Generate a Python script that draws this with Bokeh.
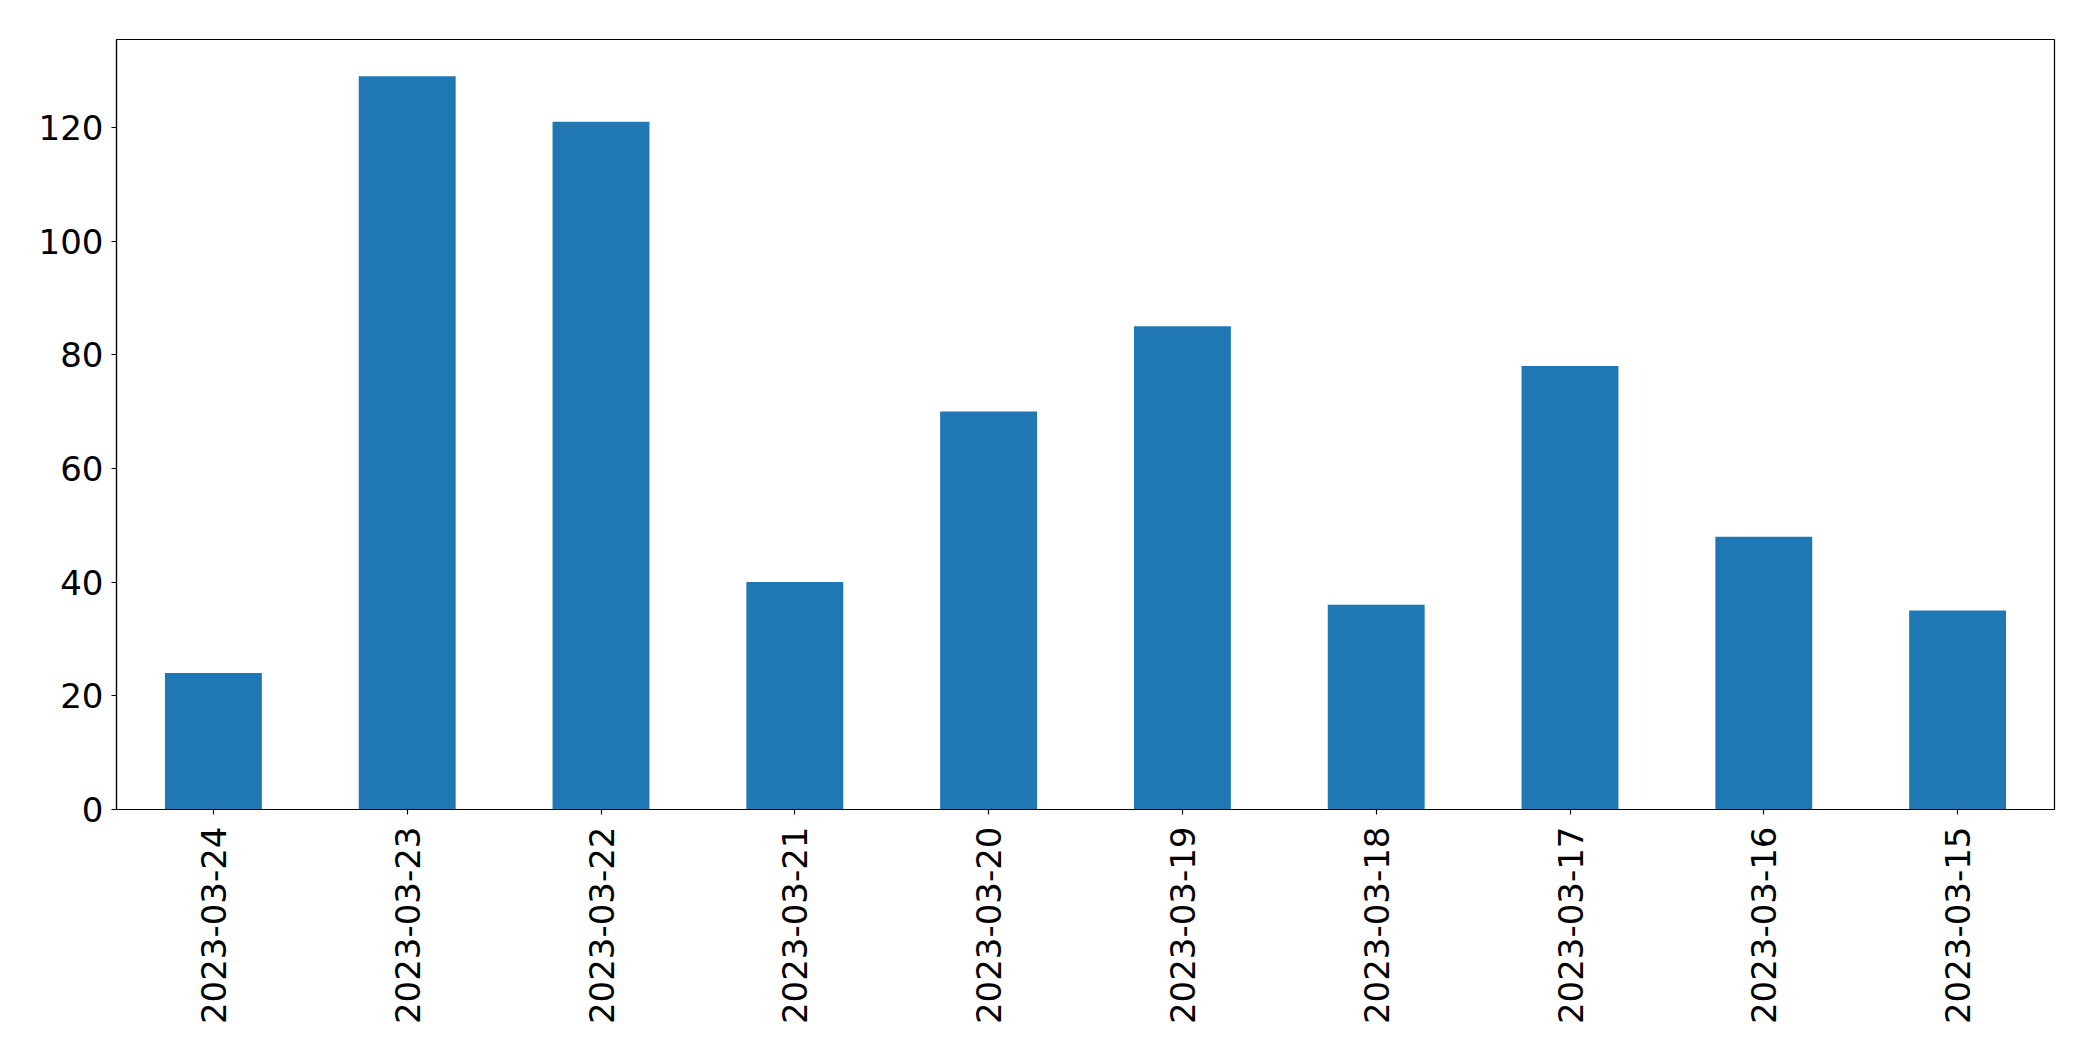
import math
from bokeh.plotting import figure
from bokeh.models import Range1d, FactorRange, FixedTicker, ColumnDataSource
from bokeh.embed import file_html
from bokeh.resources import INLINE

dates = ["2023-03-24", "2023-03-23", "2023-03-22", "2023-03-21", "2023-03-20",
         "2023-03-19", "2023-03-18", "2023-03-17", "2023-03-16", "2023-03-15"]
counts = [24, 129, 121, 40, 70, 85, 36, 78, 48, 35]
y_ticks = [0, 20, 40, 60, 80, 100, 120]

src = ColumnDataSource(dict(x=dates, top=counts))

p = figure(width=2077, height=1045, output_backend="svg", toolbar_location=None,
           x_range=FactorRange(factors=dates, range_padding=0),
           y_range=Range1d(0, max(counts) * 1.05),
           min_border_left=116, min_border_right=23, min_border_top=39, min_border_bottom=236)

p.vbar(x="x", top="top", width=0.5, source=src, color="#1f77b4", line_color=None)

p.xgrid.visible = False
p.ygrid.visible = False
p.outline_line_color = "black"
p.outline_line_width = 1.2
p.outline_line_alpha = 1

for ax in (p.xaxis, p.yaxis):
    ax.axis_line_color = "black"
    ax.axis_line_width = 1.2
    ax.major_tick_line_color = "black"
    ax.major_tick_line_width = 1.2
    ax.major_tick_out = 5
    ax.major_tick_in = 0
    ax.minor_tick_line_color = None
    ax.major_label_text_font = "DejaVu Sans"
    ax.major_label_text_font_size = "34px"
    ax.major_label_text_color = "black"

p.yaxis.ticker = FixedTicker(ticks=y_ticks)
p.yaxis.major_label_standoff = 8
p.xaxis.major_label_orientation = math.pi / 2
p.xaxis.major_label_standoff = 12

open("out.html", "w").write(file_html(p, INLINE))
